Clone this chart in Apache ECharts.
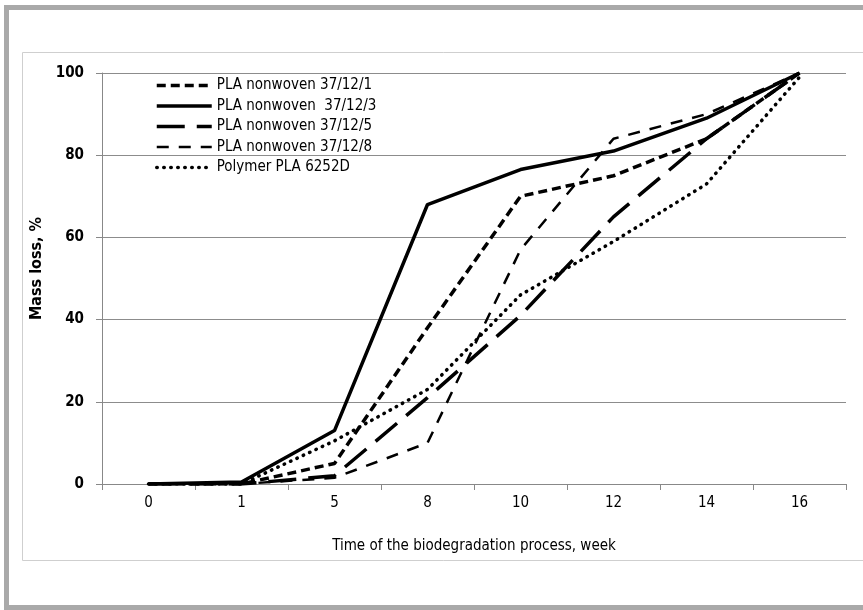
<!DOCTYPE html>
<html>
<head>
<meta charset="utf-8">
<title>Mass loss</title>
<script src="https://cdn.jsdelivr.net/npm/echarts@6/dist/echarts.min.js"></script>
<style>
  html, body { margin: 0; padding: 0; background: #fff; }
  #chart { width: 863px; height: 610px; }
</style>
</head>
<body>
<div id="chart"></div>
<script>
// weeks (category axis)
var weeks = ['0', '1', '5', '8', '10', '12', '14', '16'];
var yTicks = [0, 20, 40, 60, 80, 100];

// mass loss, %
var pla1 = [0, 0, 5, 38, 70, 75, 84, 100];
var pla3 = [0, 0.5, 13, 68, 76.5, 81, 89, 100];
var pla5 = [0, 0, 2, 21, 41, 65, 84, 100];
var pla8 = [0, 0, 1.5, 10, 57, 84, 90, 100];
var polymer = [0, 0, 10.5, 23, 46, 59, 73, 99];

var names = [
    'PLA nonwoven 37/12/1',
    'PLA nonwoven  37/12/3',
    'PLA nonwoven 37/12/5',
    'PLA nonwoven 37/12/8',
    'Polymer PLA 6252D'
];

var font = '"Liberation Sans Narrow", "DejaVu Sans Condensed", sans-serif';

function line(name, data, width, dash, cap) {
    return {
        name: name,
        type: 'line',
        data: data,
        symbol: 'none',
        smooth: false,
        lineStyle: { color: '#000', width: width, type: dash, cap: cap || 'butt' },
        itemStyle: { color: '#000' }
    };
}

var chart = echarts.init(document.getElementById('chart'));
var option = {
    animation: false,
    backgroundColor: '#fff',
    graphic: [
        // outer grey frame
        { type: 'rect', shape: { x: 6.5, y: 7.5, width: 900, height: 600 },
          style: { fill: 'none', stroke: '#a9a9a9', lineWidth: 5 }, z: 0 },
        // inner chart area border
        { type: 'rect', shape: { x: 22.5, y: 52.5, width: 900, height: 508 },
          style: { fill: 'none', stroke: '#cfcfcf', lineWidth: 1 }, z: 0 }
    ],
    grid: { left: 102, right: 17, top: 73, bottom: 126 },
    legend: {
        left: 150,
        top: 73,
        orient: 'vertical',
        itemWidth: 55,
        itemHeight: 14,
        itemGap: 5.5,
        data: names,
        itemStyle: { opacity: 0 },
        lineStyle: { width: 'inherit', type: 'inherit', color: '#000' },
        textStyle: { fontFamily: font, fontSize: 15, color: '#000' }
    },
    xAxis: {
        type: 'category',
        data: weeks,
        boundaryGap: true,
        name: 'Time of the biodegradation process, week',
        nameLocation: 'middle',
        nameGap: 55,
        nameTextStyle: { fontFamily: font, fontSize: 15, color: '#000' },
        axisLine: { lineStyle: { color: '#888', width: 1 } },
        axisTick: { show: true, length: 6, lineStyle: { color: '#888' } },
        axisLabel: { fontFamily: font, fontSize: 15, color: '#000', margin: 12 }
    },
    yAxis: {
        type: 'value',
        min: yTicks[0],
        max: yTicks[yTicks.length - 1],
        interval: 20,
        name: 'Mass loss, %',
        nameLocation: 'middle',
        nameGap: 53,
        nameRotate: 90,
        nameTextStyle: { fontFamily: font, fontSize: 16, fontWeight: 'bold', color: '#000', padding: [0, 0, 0, 20] },
        axisLine: { show: true, lineStyle: { color: '#888', width: 1 } },
        axisTick: { show: true, inside: false, length: 6, lineStyle: { color: '#888' } },
        axisLabel: { fontFamily: font, fontSize: 15, fontWeight: 'bold', color: '#000', margin: 18 },
        splitLine: { lineStyle: { color: '#8c8c8c', width: 1 } }
    },
    series: [
        line(names[0], pla1, 3.5, [9, 5]),
        line(names[1], pla3, 3.5, 'solid'),
        line(names[2], pla5, 3.5, [28, 12]),
        line(names[3], pla8, 2.5, [12, 10]),
        line(names[4], polymer, 3.5, [0.5, 6.5], 'round')
    ]
};
chart.setOption(option);
</script>
</body>
</html>
